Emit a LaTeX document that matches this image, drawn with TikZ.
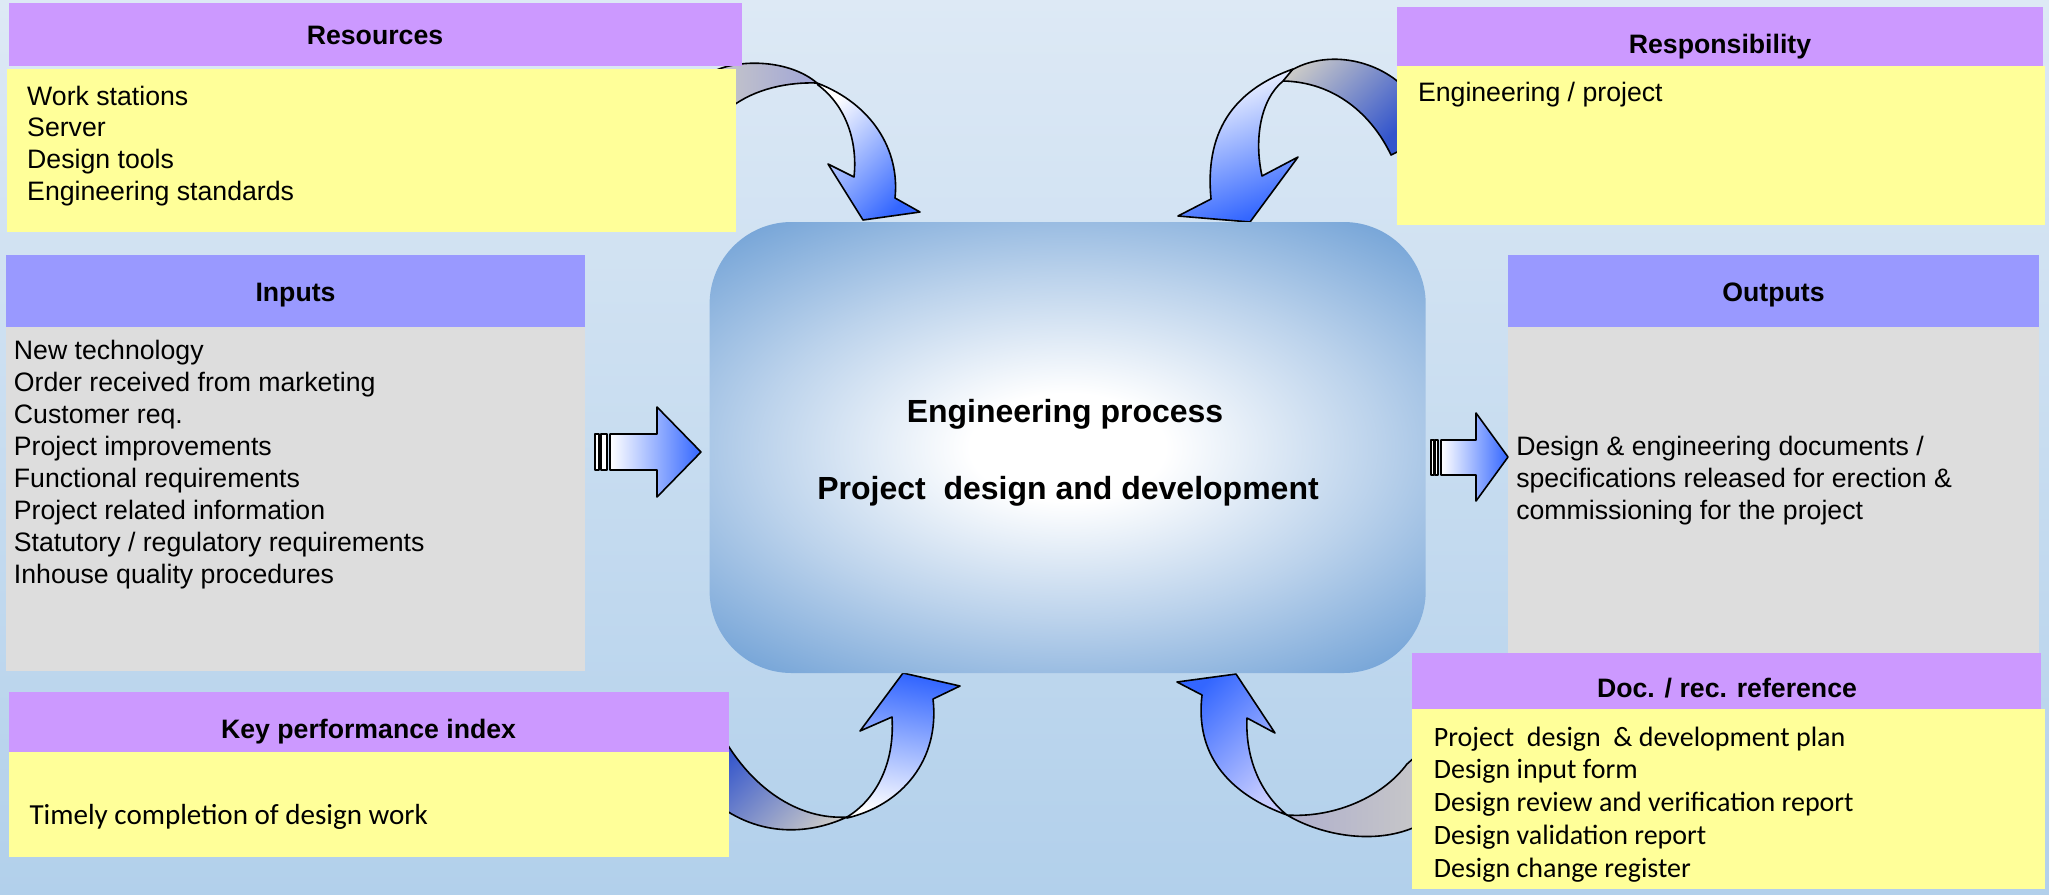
\documentclass[tikz,border=0pt]{standalone}
\usepackage{fontspec}
\setmainfont{Liberation Sans}
\newfontfamily\calfont{Carlito}
\definecolor{bgtop}{RGB}{221,233,245}
\definecolor{bgbot}{RGB}{178,208,235}
\definecolor{hpurple}{RGB}{204,153,255}
\definecolor{hblue}{RGB}{153,153,255}
\definecolor{byellow}{RGB}{255,255,153}
\definecolor{bgray}{RGB}{221,221,221}
\definecolor{cbox}{RGB}{120,166,216}
\colorlet{cmid}{cbox!50!white}
\definecolor{abl}{RGB}{51,102,255}
\definecolor{agray}{RGB}{200,200,200}
\definecolor{aslate}{RGB}{51,85,204}
\definecolor{aviolet}{RGB}{160,165,215}
\definecolor{apale}{RGB}{200,205,255}
\definecolor{agrayv}{RGB}{175,175,205}
\pgfdeclareradialshading{cglow}{\pgfpoint{0bp}{0bp}}{color(0bp)=(white); color(6bp)=(white); color(19bp)=(cmid); color(31bp)=(cbox); color(75bp)=(cbox)}
\begin{document}
\begin{tikzpicture}[x=0.375pt,y=-0.375pt,
  hdrtext/.style={font=\fontsize{10}{12}\selectfont\bfseries, inner sep=0pt, anchor=base},
  bodytext/.style={font=\fontsize{10}{12}\selectfont, inner sep=0pt, anchor=base west},
  caltext/.style={font=\calfont\fontsize{10.5}{12}\selectfont, inner sep=0pt, anchor=base west},
  cent/.style={font=\fontsize{12}{14}\selectfont\bfseries, inner sep=0pt, anchor=base},
  arrowline/.style={draw=black, line width=0.6pt, line join=round}]
\shade[top color=bgtop, bottom color=bgbot] (0,0) rectangle (2049,894);
\useasboundingbox (0,0) rectangle (2049,894);

% curved arrows (behind boxes)
% top-left
\shadedraw[arrowline, left color=agray, right color=aviolet] (712,72) .. controls (740,58) and (790,60) .. (817,83) .. controls (790,82) and (755,88) .. (730,108) -- cycle;
\shadedraw[arrowline, top color=white, bottom color=abl, shading angle=45] (817,83) .. controls (872,104) and (900,150) .. (895,198) -- (920,212) -- (863,220) -- (828,164) -- (854,177) .. controls (858,140) and (845,105) .. (818,85) -- cycle;
% top-right
\shadedraw[arrowline, top color=agray, bottom color=aslate, shading angle=45] (1290,71) .. controls (1325,50) and (1375,58) .. (1405,88) -- (1405,148) -- (1391,155) .. controls (1372,115) and (1335,82) .. (1283,81) -- cycle;
\shadedraw[arrowline, top color=white, bottom color=abl, shading angle=20] (1293,69) .. controls (1240,88) and (1204,125) .. (1211,199) -- (1178,216) -- (1250,222) -- (1298,157) -- (1262,176) .. controls (1254,140) and (1260,100) .. (1283,81) -- cycle;
% bottom-left
\shadedraw[arrowline, top color=aslate, bottom color=agray, shading angle=45] (718,728) .. controls (750,790) and (800,820) .. (847,817) .. controls (815,832) and (765,840) .. (718,805) -- cycle;
\shadedraw[arrowline, top color=abl, bottom color=white, shading angle=-10] (847,818) .. controls (902,805) and (940,760) .. (933,699) -- (960,686) -- (903,673) -- (860,731) -- (892,717) .. controls (895,765) and (875,800) .. (847,817) -- cycle;
% bottom-right
\shadedraw[arrowline, left color=agrayv, right color=agray] (1425,748) -- (1407,764) .. controls (1380,800) and (1330,818) .. (1287,815) .. controls (1320,835) and (1380,848) .. (1425,822) -- cycle;
\shadedraw[arrowline, top color=abl, bottom color=apale, shading angle=45] (1287,815) .. controls (1218,790) and (1196,745) .. (1202,695) -- (1177,682) -- (1236,674) -- (1275,733) -- (1247,718) .. controls (1245,760) and (1262,795) .. (1287,815) -- cycle;

% boxes
\fill[hpurple] (9,3) rectangle (742,66);
\fill[byellow] (7,69) rectangle (736,232);
\fill[hpurple] (1397,7) rectangle (2043,66);
\fill[byellow] (1397,66) rectangle (2045,225);
\fill[hblue] (6,255) rectangle (585,327);
\fill[bgray] (6,327) rectangle (585,671);
\fill[hblue] (1508,255) rectangle (2039,327);
\fill[bgray] (1508,327) rectangle (2039,660);
\fill[hpurple] (9,692) rectangle (729,752);
\fill[byellow] (9,752) rectangle (729,857);
\fill[hpurple] (1412,653) rectangle (2041,709);
\fill[byellow] (1412,709) rectangle (2045,889);

% central box
\begin{scope}
  \clip[rounded corners=30.75pt] (709.6,222) rectangle (1425.7,673);
  \shade[shading=cglow] (660,222) rectangle (1475,673);
\end{scope}

% block arrows
\filldraw[arrowline, fill=white] (595,434) rectangle (599,470);
\filldraw[arrowline, fill=white] (601,434) rectangle (607,470);
\shadedraw[arrowline, left color=white, right color=abl] (610,434) -- (657,434) -- (657,407) -- (701,452) -- (657,497) -- (657,470) -- (610,470) -- cycle;
\filldraw[arrowline, fill=white] (1431,440) rectangle (1434,475);
\filldraw[arrowline, fill=white] (1435,440) rectangle (1438,475);
\shadedraw[arrowline, left color=white, right color=abl] (1441,440) -- (1476,440) -- (1476,413) -- (1508,457) -- (1476,501) -- (1476,475) -- (1441,475) -- cycle;

% texts
\node[cent] (ct1) at (1065,422) {Engineering process};
\node[cent] (ct2) at (1068,499) {Project\ \ design and development};

\node[hdrtext] (hres) at (375,44) {Resources};
\node[hdrtext] (hresp) at (1720,53) {Responsibility};
\node[hdrtext] (hin) at (295.5,301) {Inputs};
\node[hdrtext] (hout) at (1773.5,301) {Outputs};
\node[hdrtext] (hkpi) at (368.6,738) {Key performance index};
\node[hdrtext] (hdoc) at (1727,697) {Doc. / rec. reference};

\foreach \t [count=\i] in {Work stations, Server, Design tools, Engineering standards}
  \node[bodytext] (res\i) at (26.7,{105+31.7*(\i-1)}) {\t};
\node[bodytext] (resp1) at (1417.5,101.7) {Engineering / project};
\foreach \t [count=\i] in {New technology, Order received from marketing, Customer req., Project improvements, Functional requirements, Project related information, Statutory / regulatory requirements, Inhouse quality procedures}
  \node[bodytext] (in\i) at (13.4,{359.3+32*(\i-1)}) {\t};
\foreach \t [count=\i] in {Design \& engineering documents /, specifications released for erection \&, commissioning for the project}
  \node[bodytext] (out\i) at (1515.7,{455+32.1*(\i-1)}) {\t};
\node[caltext, font=\calfont\fontsize{10.9}{12}\selectfont] (kpi1) at (29,824) {Timely completion of design work};
\foreach \t [count=\i] in {{Project\ \ design\ \ \& development plan}, Design input form, Design review and verification report, Design validation report, Design change register}
  \node[caltext] (doc\i) at (1433.3,{746+32.8*(\i-1)}) {\t};
\end{tikzpicture}
\end{document}
